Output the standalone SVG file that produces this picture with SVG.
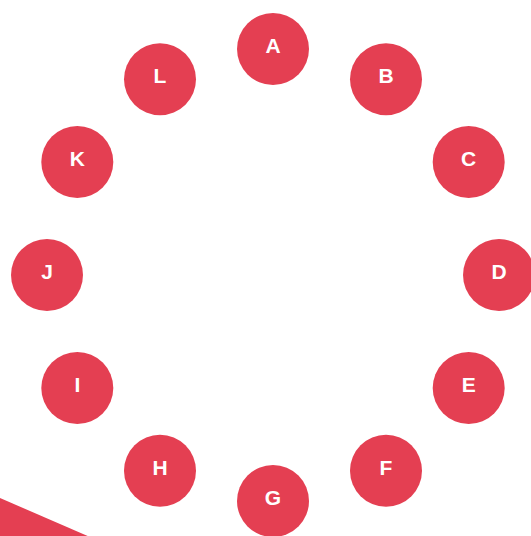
<svg xmlns="http://www.w3.org/2000/svg" width="531" height="536" viewBox="0 0 531 536">
<style>
.n circle{fill:#E43F52}
.n text{fill:#fff;font-family:"Liberation Sans",Arial,sans-serif;font-weight:bold;font-size:21px;text-anchor:middle}
</style>
<rect width="531" height="536" fill="#fff"/>
<polygon points="0,498 90,537 0,537" fill="#E43F52"/>
<g id="connectors"></g>
<g id="A" class="n"><circle cx="273" cy="49" r="36"/><text x="273" y="53">A</text></g>
<g id="B" class="n"><circle cx="386" cy="79.3" r="36"/><text x="386" y="83.3">B</text></g>
<g id="C" class="n"><circle cx="468.7" cy="162" r="36"/><text x="468.7" y="166">C</text></g>
<g id="D" class="n"><circle cx="499" cy="275" r="36"/><text x="499" y="279">D</text></g>
<g id="E" class="n"><circle cx="468.7" cy="388" r="36"/><text x="468.7" y="392">E</text></g>
<g id="F" class="n"><circle cx="386" cy="470.7" r="36"/><text x="386" y="474.7">F</text></g>
<g id="G" class="n"><circle cx="273" cy="501" r="36"/><text x="273" y="505">G</text></g>
<g id="H" class="n"><circle cx="160" cy="470.7" r="36"/><text x="160" y="474.7">H</text></g>
<g id="I" class="n"><circle cx="77.3" cy="388" r="36"/><text x="77.3" y="392">I</text></g>
<g id="J" class="n"><circle cx="47" cy="275" r="36"/><text x="47" y="279">J</text></g>
<g id="K" class="n"><circle cx="77.3" cy="162" r="36"/><text x="77.3" y="166">K</text></g>
<g id="L" class="n"><circle cx="160" cy="79.3" r="36"/><text x="160" y="83.3">L</text></g>
</svg>
